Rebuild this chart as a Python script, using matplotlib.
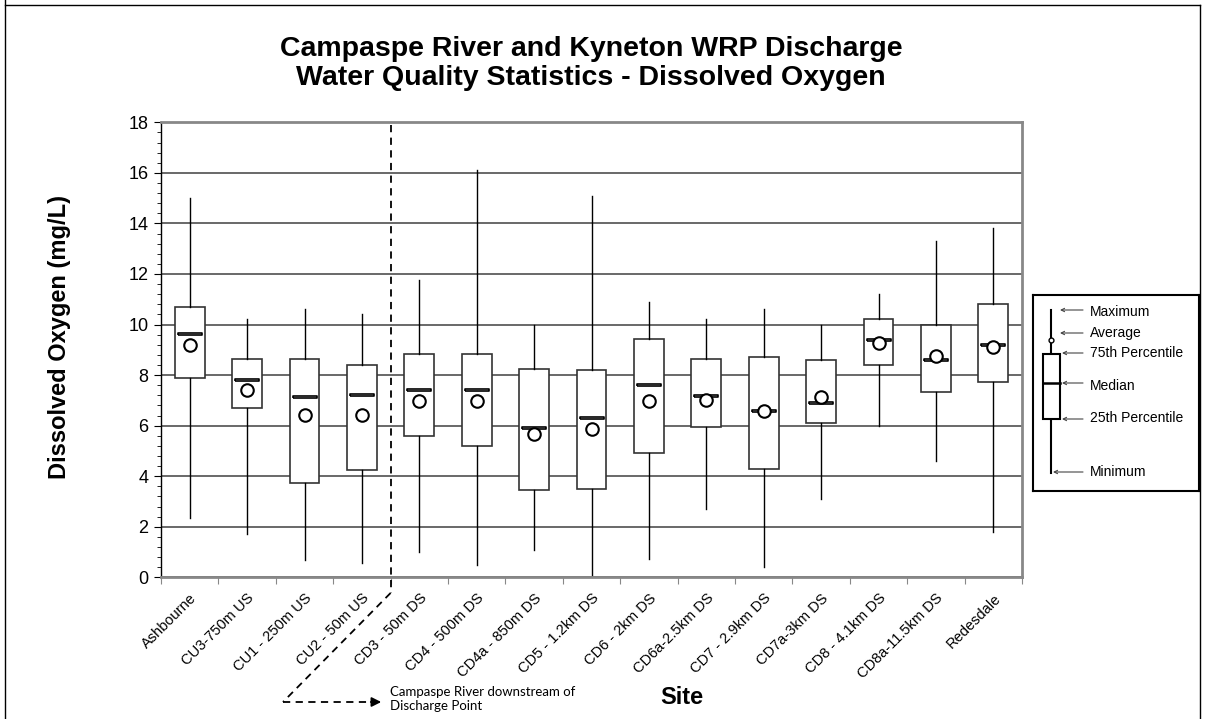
import numpy as np
import matplotlib.pyplot as plt
from matplotlib.patches import Rectangle, FancyArrowPatch
from matplotlib.lines import Line2D
from matplotlib.ticker import MultipleLocator

plt.rcParams['font.family'] = ['Liberation Sans', 'DejaVu Sans']

# data (mg/L)
sites = ['Ashbourne', 'CU3-750m US', 'CU1 - 250m US', 'CU2 - 50m US', 'CD3 - 50m DS',
         'CD4 - 500m DS', 'CD4a - 850m DS', 'CD5 - 1.2km DS', 'CD6 - 2km DS',
         'CD6a-2.5km DS', 'CD7 - 2.9km DS', 'CD7a-3km DS', 'CD8 - 4.1km DS',
         'CD8a-11.5km DS', 'Redesdale']
do_min = [2.34, 1.70, 0.69, 0.58, 0.99, 0.49, 1.08, 0.0, 0.71, 2.70, 0.40, 3.10, 6.0, 4.61, 1.81]
do_q1 = [7.90, 6.69, 3.72, 4.25, 5.58, 5.19, 3.46, 3.50, 4.91, 5.93, 4.29, 6.10, 8.38, 7.33, 7.71]
do_med = [9.62, 7.81, 7.13, 7.21, 7.42, 7.42, 5.90, 6.31, 7.60, 7.18, 6.59, 6.89, 9.40, 8.61, 9.20]
do_q3 = [10.69, 8.62, 8.65, 8.40, 8.82, 8.82, 8.25, 8.20, 9.41, 8.63, 8.70, 8.61, 10.20, 9.99, 10.81]
do_max = [15.0, 10.22, 10.61, 10.42, 11.76, 16.12, 9.99, 15.10, 10.89, 10.20, 10.61, 9.99, 11.21, 13.31, 13.82]
do_mean = [9.19, 7.39, 6.43, 6.43, 6.99, 6.99, 5.66, 5.87, 6.99, 7.02, 6.59, 7.15, 9.27, 8.76, 9.11]

W, H = 1205, 719


def px(x, y):
    # pixel position -> figure fraction
    return x / W, 1 - y / H


fig = plt.figure(figsize=(W / 100, H / 100), dpi=100)
ax = fig.add_axes([161 / W, 1 - 577.3 / H, (1022 - 161) / W, (577.3 - 122.3) / H])

stats = []
for i in range(len(sites)):
    stats.append(dict(med=do_med[i], q1=do_q1[i], q3=do_q3[i],
                      whislo=do_min[i], whishi=do_max[i], fliers=[]))

pos = np.arange(len(sites))
ax.bxp(stats, positions=pos, widths=0.52, patch_artist=True, showcaps=False,
       showfliers=False,
       boxprops=dict(facecolor='white', edgecolor='#333333', linewidth=1.2),
       whiskerprops=dict(color='black', linewidth=1),
       medianprops=dict(linewidth=0))

# median = flat open bar, mean = open circle
bar_marker = [(-1, -0.13), (1, -0.13), (1, 0.13), (-1, 0.13), (-1, -0.13)]
ax.plot(pos, do_med, ls='none', marker=bar_marker, ms=16.6, mfc='white',
        mec='black', mew=1.2, zorder=4)
ax.plot(pos, do_mean, ls='none', marker='o', ms=9, mfc='white',
        mec='black', mew=1.5, zorder=5)

ax.set_xlim(-0.5, 14.5)
ax.set_ylim(0, 18)
ax.set_yticks(np.arange(0, 19, 2))
ax.yaxis.set_minor_locator(MultipleLocator(0.4))
ax.tick_params(axis='y', which='major', direction='out', length=5, labelsize=13,
               color='black', pad=4)
ax.tick_params(axis='y', which='minor', direction='out', length=3, color='black')

ax.set_xticks(np.arange(-0.5, 15, 1))
ax.set_xticklabels([])
ax.set_xticks(pos, minor=True)
ax.set_xticklabels(sites, minor=True, rotation=45, ha='right',
                   rotation_mode='anchor', fontsize=10.5)
ax.tick_params(axis='x', which='major', direction='out', length=5, color='#888888')
ax.tick_params(axis='x', which='minor', length=0, pad=10)

ax.set_axisbelow(True)
ax.grid(axis='y', which='major', color='#404040', linewidth=1.1)
ax.spines['left'].set_color('black')
ax.spines['left'].set_linewidth(1)
for s in ['top', 'right', 'bottom']:
    ax.spines[s].set_color('#888888')
    ax.spines[s].set_linewidth(2)

# discharge point marker
ax.plot([3.5, 3.5], [17.9, -0.62], ls='--', color='black', lw=1.3,
        clip_on=False, zorder=6, dashes=(4, 3))
x0, y0 = ax.transData.transform((3.5, -0.62))
fig.add_artist(Line2D([x0 / W, px(283, 702)[0]], [y0 / H, px(283, 702)[1]],
                      ls='--', dashes=(4, 3), color='black', lw=1.3))
fig.add_artist(Line2D([px(283, 702)[0], px(372, 702)[0]],
                      [px(283, 702)[1], px(372, 702)[1]],
                      ls='--', dashes=(4, 3), color='black', lw=1.3))
fig.add_artist(FancyArrowPatch(px(368, 702), px(384, 702), transform=fig.transFigure,
                               arrowstyle='-|>', mutation_scale=14, color='black', lw=1.3))
fig.text(*px(390, 699), 'Campaspe River downstream of\nDischarge Point',
         family=['Lato', 'DejaVu Sans'], fontsize=9.5, ha='left', va='center',
         linespacing=1.25)

# titles
fig.text(*px(591, 56), 'Campaspe River and Kyneton WRP Discharge', ha='center',
         va='baseline', fontsize=20.5, fontweight='bold')
fig.text(*px(591, 85), 'Water Quality Statistics - Dissolved Oxygen', ha='center',
         va='baseline', fontsize=20.5, fontweight='bold')
fig.text(*px(60, 337), 'Dissolved Oxygen (mg/L)', rotation=90, ha='center',
         va='center', fontsize=17, fontweight='bold')
fig.text(*px(682, 697), 'Site', ha='center', va='center', fontsize=17,
         fontweight='bold')

# key box
lax = fig.add_axes([1033 / W, 1 - 491 / H, (1199 - 1033) / W, (491 - 295) / H])
lax.set_xlim(1033, 1199)
lax.set_ylim(491, 295)
lax.set_xticks([])
lax.set_yticks([])
for s in lax.spines.values():
    s.set_linewidth(1.5)
    s.set_color('black')
lax.plot([1051, 1051], [310, 473], color='black', lw=1.5, zorder=1)
lax.add_patch(Rectangle((1043, 354), 17, 65, facecolor='white',
                        edgecolor='black', lw=1.5, zorder=2))
lax.plot([1043, 1060], [383, 383], color='black', lw=1.8, zorder=3)
lax.plot([1051], [340], marker='o', ms=3.5, mfc='white', mec='black',
         mew=1, zorder=3)
key_labels = ['Maximum', 'Average', '75th Percentile', 'Median', '25th Percentile', 'Minimum']
key_arrow_y = [310, 333, 353, 383, 419, 472]
key_text_y = [312, 333, 353, 386, 418, 472]
key_tip_x = [1060, 1060, 1062, 1062, 1062, 1053]
for lab, ya, yt, xt in zip(key_labels, key_arrow_y, key_text_y, key_tip_x):
    lax.annotate('', xy=(xt, ya), xytext=(1083, ya),
                 arrowprops=dict(arrowstyle='->', color='#444444', lw=0.8,
                                 mutation_scale=6, shrinkA=0, shrinkB=0))
    lax.text(1090, yt, lab, ha='left', va='center', fontsize=10)

# outer frame
fig.add_artist(Line2D([px(5, 0)[0], px(5, 719)[0]], [1, 0], color='black', lw=1))
fig.add_artist(Line2D([px(5, 5)[0], px(1200, 5)[0]], [px(5, 5)[1], px(1200, 5)[1]],
                      color='black', lw=1))
fig.add_artist(Line2D([px(1200, 0)[0], px(1200, 0)[0]], [px(0, 5)[1], 0],
                      color='black', lw=1))

fig.savefig('out.png', dpi=100)
